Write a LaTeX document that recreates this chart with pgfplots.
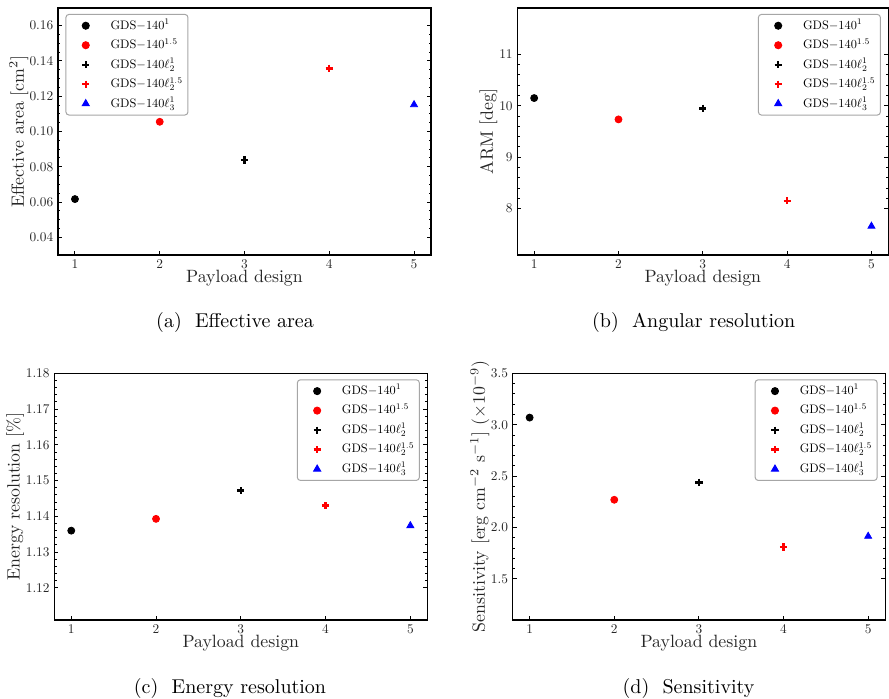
\documentclass[border=0pt]{standalone}
\usepackage{graphicx}
\usepackage{pgfplots}
\pgfplotsset{compat=1.18}

% legend entries: 10pt text scaled down (keeps the 10pt design widths)
\newcommand{\gds}[1]{\scalebox{0.615}{$\mathrm{GDS}{-}140#1$}}

\pgfplotsset{
  panel/.style={
    scale only axis,
    width=186.5pt, height=123.5pt,
    xmin=0.8, xmax=5.2,
    xtick={1,2,3,4,5},
    tick align=inside,
    xtick pos=bottom,
    ytick pos=both,
    major tick length=2pt,
    minor tick length=1.2pt,
    every tick/.style={black, line width=0.5pt},
    axis line style={line width=0.6pt},
    tick label style={font=\fontsize{10}{12}\selectfont, scale=0.667, black!85},
    xlabel style={font=\fontsize{10}{12}\selectfont, scale=0.89, black!85, yshift=5pt},
    ylabel style={font=\fontsize{10}{12}\selectfont, scale=0.89, black!85, anchor=center},
    xlabel={Payload design},
    legend cell align=left,
    legend image code/.code={
      \path (0pt,0pt) (18.6pt,0pt);
      \draw[##1] plot coordinates {(6.8pt,0pt)};
    },
    legend style={
      draw=gray!70, rounded corners=1.5pt, line width=0.5pt,
      inner xsep=2.5pt, inner ysep=2.4pt, row sep=3.25pt,
      nodes={inner sep=0pt, text height=4.9pt, text depth=1.6pt},
      at={(0.98,0.976)}, anchor=north east,
    },
    every axis plot/.append style={only marks},
  },
  cblack/.style={mark=*, black, mark size=1.75pt},
  cred/.style={mark=*, red, mark size=1.75pt},
  pblack/.style={mark=+, black, line width=1.2pt, mark size=1.8pt},
  pred/.style={mark=+, red, line width=1.2pt, mark size=1.8pt},
  tblue/.style={mark=triangle*, blue, mark size=2pt},
}

\begin{document}
\begin{tikzpicture}
\useasboundingbox (0,0) rectangle (444.5pt,-349.5pt);

% (a) Effective area
\begin{axis}[panel, at={(29pt,-127.5pt)}, anchor=south west,
  ymin=0.03, ymax=0.17,
  ytick={0.04,0.06,0.08,0.10,0.12,0.14,0.16},
  yticklabel style={/pgf/number format/fixed, /pgf/number format/fixed zerofill, /pgf/number format/precision=2},
  minor y tick num=3,
  ylabel={Effective area [cm$^2$]},
  ylabel style={at={(axis description cs:-0.105,0.5)}},
  legend style={at={(0.02,0.976)}, anchor=north west}]
\addplot[cblack] coordinates {(1,0.0617)};
\addlegendentry{\gds{^{1}}}
\addplot[cred] coordinates {(2,0.1055)};
\addlegendentry{\gds{^{1.5}}}
\addplot[pblack] coordinates {(3,0.0838)};
\addlegendentry{\gds{\ell_2^{1}}}
\addplot[pred] coordinates {(4,0.1358)};
\addlegendentry{\gds{\ell_2^{1.5}}}
\addplot[tblue] coordinates {(5,0.1152)};
\addlegendentry{\gds{\ell_3^{1}}}
\end{axis}

% (b) Angular resolution
\begin{axis}[panel, at={(258.65pt,-127.5pt)}, anchor=south west,
  width=185.5pt,
  ymin=7.1, ymax=11.9,
  ytick={8,9,10,11},
  minor y tick num=4,
  ylabel={ARM [deg]},
  ylabel style={at={(axis description cs:-0.078,0.5)}}]
\addplot[cblack] coordinates {(1,10.15)};
\addlegendentry{\gds{^{1}}}
\addplot[cred] coordinates {(2,9.735)};
\addlegendentry{\gds{^{1.5}}}
\addplot[pblack] coordinates {(3,9.95)};
\addlegendentry{\gds{\ell_2^{1}}}
\addplot[pred] coordinates {(4,8.155)};
\addlegendentry{\gds{\ell_2^{1.5}}}
\addplot[tblue] coordinates {(5,7.66)};
\addlegendentry{\gds{\ell_3^{1}}}
\end{axis}

% (c) Energy resolution
\begin{axis}[panel, at={(27.15pt,-310pt)}, anchor=south west,
  height=123.3pt,
  ymin=1.111, ymax=1.18,
  ytick={1.12,1.13,1.14,1.15,1.16,1.17,1.18},
  yticklabel style={/pgf/number format/fixed, /pgf/number format/fixed zerofill, /pgf/number format/precision=2},
  minor y tick num=4,
  ylabel={Energy resolution [\%]},
  ylabel style={at={(axis description cs:-0.105,0.5)}}]
\addplot[cblack] coordinates {(1,1.1360)};
\addlegendentry{\gds{^{1}}}
\addplot[cred] coordinates {(2,1.1393)};
\addlegendentry{\gds{^{1.5}}}
\addplot[pblack] coordinates {(3,1.1472)};
\addlegendentry{\gds{\ell_2^{1}}}
\addplot[pred] coordinates {(4,1.1430)};
\addlegendentry{\gds{\ell_2^{1.5}}}
\addplot[tblue] coordinates {(5,1.1374)};
\addlegendentry{\gds{\ell_3^{1}}}
\end{axis}

% (d) Sensitivity
\begin{axis}[panel, at={(256.35pt,-310pt)}, anchor=south west,
  width=186.2pt, height=123.3pt,
  ymin=1.1, ymax=3.5,
  ytick={1.5,2.0,2.5,3.0,3.5},
  yticklabel style={/pgf/number format/fixed, /pgf/number format/fixed zerofill, /pgf/number format/precision=1},
  minor y tick num=4,
  ylabel={Sensitivity [erg cm$^{-2}$ s$^{-1}$] ($\times10^{-9}$)},
  ylabel style={at={(axis description cs:-0.088,0.5)}}]
\addplot[cblack] coordinates {(1,3.07)};
\addlegendentry{\gds{^{1}}}
\addplot[cred] coordinates {(2,2.27)};
\addlegendentry{\gds{^{1.5}}}
\addplot[pblack] coordinates {(3,2.44)};
\addlegendentry{\gds{\ell_2^{1}}}
\addplot[pred] coordinates {(4,1.81)};
\addlegendentry{\gds{\ell_2^{1.5}}}
\addplot[tblue] coordinates {(5,1.915)};
\addlegendentry{\gds{\ell_3^{1}}}
\end{axis}

% sub-captions
\node[font=\fontsize{10}{12}\selectfont] at (117.5pt,-161.5pt) {(a)\ \ Effective area};
\node[font=\fontsize{10}{12}\selectfont] at (346.85pt,-161.5pt) {(b)\ \ Angular resolution};
\node[font=\fontsize{10}{12}\selectfont] at (115pt,-344pt) {(c)\ \ Energy resolution};
\node[font=\fontsize{10}{12}\selectfont] at (344.25pt,-344pt) {(d)\ \ Sensitivity};
\end{tikzpicture}
\end{document}
